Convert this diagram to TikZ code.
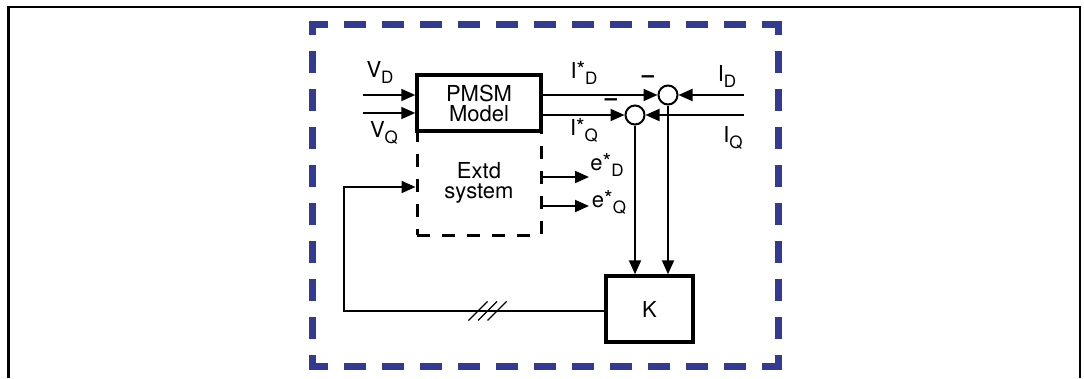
\documentclass[tikz,border=0pt]{standalone}
\usepackage{fontspec}
\setmainfont{TeX Gyre Heros}
\usetikzlibrary{arrows.meta}
\definecolor{frameblue}{RGB}{51,58,148}
\newcommand{\lsub}[1]{\raisebox{-6pt}{\fontsize{17}{17}\selectfont #1}}
\newcommand{\lstar}{\raisebox{1pt}{*}}
\begin{document}
\begin{tikzpicture}[x=1pt,y=-1pt,
  font=\fontsize{22}{20}\selectfont,
  conn/.style={line width=2pt},
  arr/.style={conn,-{Triangle[length=14pt,width=12pt]}},
  blk/.style={draw,line width=3.5pt,align=center,inner sep=0pt},
  dblk/.style={draw,line width=3pt,dash pattern=on 13pt off 12pt,align=center,inner sep=0pt},
  sumc/.style={draw,circle,line width=2pt,minimum size=19pt,inner sep=0pt},
  lbl/.style={inner sep=0pt,anchor=center},
  bframe/.style={draw=frameblue,line width=7pt,line cap=butt,dash pattern=on 22pt off 16pt},
  hash/.style={line width=1.2pt}]
\useasboundingbox (0,0) rectangle (1084,378);
% outer black frame (open at bottom)
\draw[line width=2.5pt] (8.3,378) -- (8.3,7) -- (1080,7) -- (1080,378);
% blue dashed frame
\draw[bframe,dash phase=2.5pt] (308.5,24) -- (781.5,24);
\draw[bframe,dash phase=2.5pt] (308.5,366) -- (781.5,366);
\draw[bframe,dash phase=7.5pt] (312,20.5) -- (312,369.5);
\draw[bframe,dash phase=7.5pt] (778,20.5) -- (778,369.5);
% blocks
\node[dblk,minimum width=124pt,minimum height=104pt] (extd) at (479,183) {Extd\\system};
\node[blk,fill=white,minimum width=124pt,minimum height=56pt] (pmsm) at (479,103) {PMSM\\Model};
\node[blk,minimum width=87pt,minimum height=66pt] (k) at (649.5,309) {K};
% summing junctions
\node[sumc] (sd) at (668,95) {};
\node[sumc] (sq) at (635,115) {};
% free ends
\coordinate (vd) at (363,95);
\coordinate (vq) at (363,113);
\coordinate (idin) at (744,95);
\coordinate (iqin) at (744,115);
\coordinate (ed) at (589,177);
\coordinate (eq) at (589,206);
\coordinate (fbc) at (344,311);
\coordinate (fbt) at (417,187);
% connectors
\draw[arr] (vd) -- (pmsm.west |- vd);
\draw[arr] (vq) -- (pmsm.west |- vq);
\draw[arr] (pmsm.east |- sd) -- (sd);
\draw[arr] (pmsm.east |- sq) -- (sq);
\draw[arr] (idin) -- (sd);
\draw[arr] (iqin) -- (sq);
\draw[arr] (sd) -- (sd |- k.north);
\draw[arr] (sq) -- (sq |- k.north);
\draw[arr] (extd.east |- ed) -- (ed);
\draw[arr] (extd.east |- eq) -- (eq);
\draw[arr] (k.west |- fbc) -- (fbc) |- (extd.west |- fbt);
% bus hash marks
\draw[hash] (468.5,320.5) -- (487.5,301.5);
\draw[hash] (478,320.5) -- (497,301.5);
\draw[hash] (487.5,320.5) -- (506.5,301.5);
% labels
\node[lbl] (lvd) at (380,72) {V\lsub{D}};
\node[lbl] (lvq) at (384,133) {V\lsub{Q}};
\node[lbl] (lisd) at (584,73) {I\lstar\lsub{D}};
\node[lbl] (lisq) at (584,130) {I\lstar\lsub{Q}};
\node[lbl] (lid) at (727,76) {I\lsub{D}};
\node[lbl] (liq) at (733,138) {I\lsub{Q}};
\node[lbl] (led) at (607,165) {e\lstar\lsub{D}};
\node[lbl] (leq) at (609,202) {e\lstar\lsub{Q}};
\node[lbl] (mind) at (648,79) {\textbf{–}};
\node[lbl] (minq) at (611,102) {\textbf{–}};
\end{tikzpicture}
\end{document}
